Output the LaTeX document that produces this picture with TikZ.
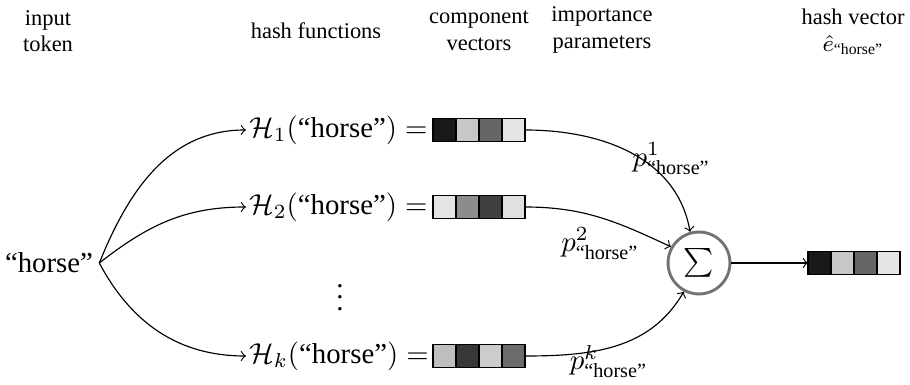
\documentclass[tikz,border=0pt]{standalone}
\usepackage{fontspec}
\setmainfont{Liberation Serif}
\usepackage{amsmath}
\usepackage{tikz}
\usetikzlibrary{arrows,positioning}
\tikzset{cell/.style={draw,thin,minimum width=8pt,minimum height=8pt,inner sep=0pt,outer sep=0pt},
  lbl/.style={align=center,font=\fontsize{7.8}{9.2}\selectfont},
  hash/.style={anchor=west,inner sep=1pt},
  conn/.style={->,thin}}

\begin{document}
\begin{tikzpicture}[x=0.3472pt,y=-0.3472pt]
\useasboundingbox (0,0) rectangle (910,385);
\node[lbl] (ltok) at (48,31) {input\\token};
\node[lbl] (lhash) at (316,31) {hash functions};
\node[lbl] (lcomp) at (479,31) {component\\vectors};
\node[lbl] (limp) at (602,30) {importance\\parameters};
\node[lbl] (lout) at (853,32) {hash vector\\$\hat{e}_{\text{“horse”}}$};

\node[inner sep=2pt] (tok) at (49,263) {“horse”};
\node[hash] (h1) at (246,130) {$\mathcal{H}_1(\text{“horse”}) =$};
\node[hash] (h2) at (246,207) {$\mathcal{H}_2(\text{“horse”}) =$};
\node (dots) at (340,289) {$\vdots$};
\node[hash] (hk) at (246,356) {$\mathcal{H}_k(\text{“horse”}) =$};

\foreach \c [count=\i] in {black!90,black!22,black!60,black!10}
  \node[cell,fill=\c] (va\i) at ({421.5+23*\i},130) {};
\foreach \c [count=\i] in {black!10,black!45,black!75,black!12}
  \node[cell,fill=\c] (vb\i) at ({421.5+23*\i},207) {};
\foreach \c [count=\i] in {black!25,black!78,black!20,black!58}
  \node[cell,fill=\c] (vk\i) at ({421.5+23*\i},356) {};
\foreach \c [count=\i] in {black!90,black!22,black!60,black!10}
  \node[cell,fill=\c] (vo\i) at ({796.5+23*\i},263) {};

\node[circle,draw=black!55,line width=1pt,minimum size=21.5pt,inner sep=0pt] (sum) at (699,263) {$\sum$};

\draw[conn] (tok.east) to[out=68,in=180] (h1.west);
\draw[conn] (tok.east) to[out=38,in=180] (h2.west);
\draw[conn] (tok.east) to[out=-62,in=180] (hk.west);

\draw[conn] (va4.east) to[out=0,in=100] node[pos=0.5,right,xshift=-3pt,yshift=-2pt] {$p^1_{\text{“horse”}}$} (sum.106);
\draw[conn] (vb4.east) to[out=0,in=155] node[pos=0.5,below] {$p^2_{\text{“horse”}}$} (sum.150);
\draw[conn] (vk4.east) to[out=0,in=240] node[pos=0.45,below,yshift=4.5pt] {$p^k_{\text{“horse”}}$} (sum.242);
\draw[conn] (sum) -- (vo1.west);
\end{tikzpicture}
\end{document}
